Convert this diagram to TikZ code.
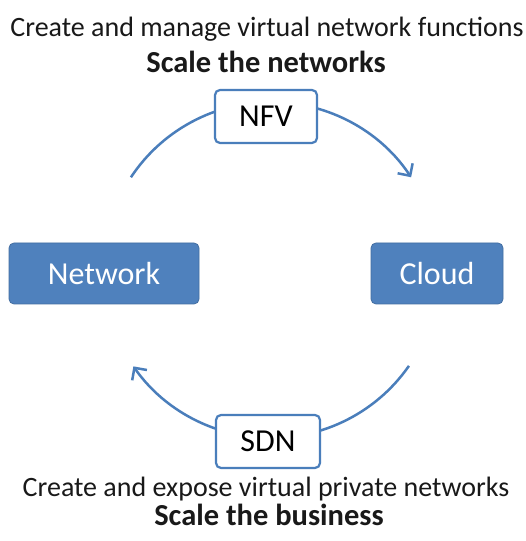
\documentclass[tikz,border=0pt]{standalone}
\usepackage{fontspec}
\setmainfont{Carlito}
\usetikzlibrary{arrows.meta}
\definecolor{boxblue}{HTML}{4F81BD}
\definecolor{lineblue}{HTML}{4A7EBB}
\begin{document}
\begin{tikzpicture}[x=1pt,y=1pt,
  bluebox/.style={draw=boxblue!85!black, line width=0.8pt, fill=boxblue, rounded corners=5pt, text=white, font=\fontsize{32}{36}\selectfont, inner sep=0pt},
  techbox/.style={draw=lineblue, line width=2.2pt, fill=white, rounded corners=5pt, text=black, font=\fontsize{32}{36}\selectfont, inner sep=0pt},
  cycle/.style={draw=lineblue, line width=2.5pt},
  tip/.style={-{Straight Barb[length=9pt,width=18pt]}},
  plain/.style={font=\fontsize{28}{32}\selectfont, text=black!90, anchor=base, inner sep=0pt, text depth=3pt},
  strong/.style={font=\bfseries\fontsize{30.5}{34}\selectfont, text=black!90, anchor=base, inner sep=0pt, text height=20pt}
]
\useasboundingbox (0,0) rectangle (526,541);
\fill[white] (0,0) rectangle (526,541);

% arcs (drawn first, boxes cover them)
\coordinate (c) at (271,271);
\path (c) ++(146.5:168) coordinate (ts);
\path (c) ++(-34.8:168) coordinate (bs);
\draw[cycle,tip] (ts) arc[start angle=146.5, end angle=33.5, radius=168];
\draw[cycle,tip] (bs) arc[start angle=-34.8, end angle=-145, radius=168];

\node[bluebox, minimum width=190pt, minimum height=61pt] (net) at (104,267.5) {Network};
\node[bluebox, minimum width=132pt, minimum height=61pt] (cloud) at (437,267.5) {Cloud};
\node[techbox, minimum width=102pt, minimum height=53pt] (nfv) at (266,424.5) {NFV};
\node[techbox, minimum width=104pt, minimum height=53pt] (sdn) at (268,99.5) {SDN};

\node[plain] (t1) at (267,504) {Create and manage virtual network functions};
\node[strong] (t2) at (266,468) {Scale the networks};
\node[plain] (b1) at (266,44) {Create and expose virtual private networks};
\node[strong] (b2) at (269,15) {Scale the business};
\end{tikzpicture}
\end{document}
